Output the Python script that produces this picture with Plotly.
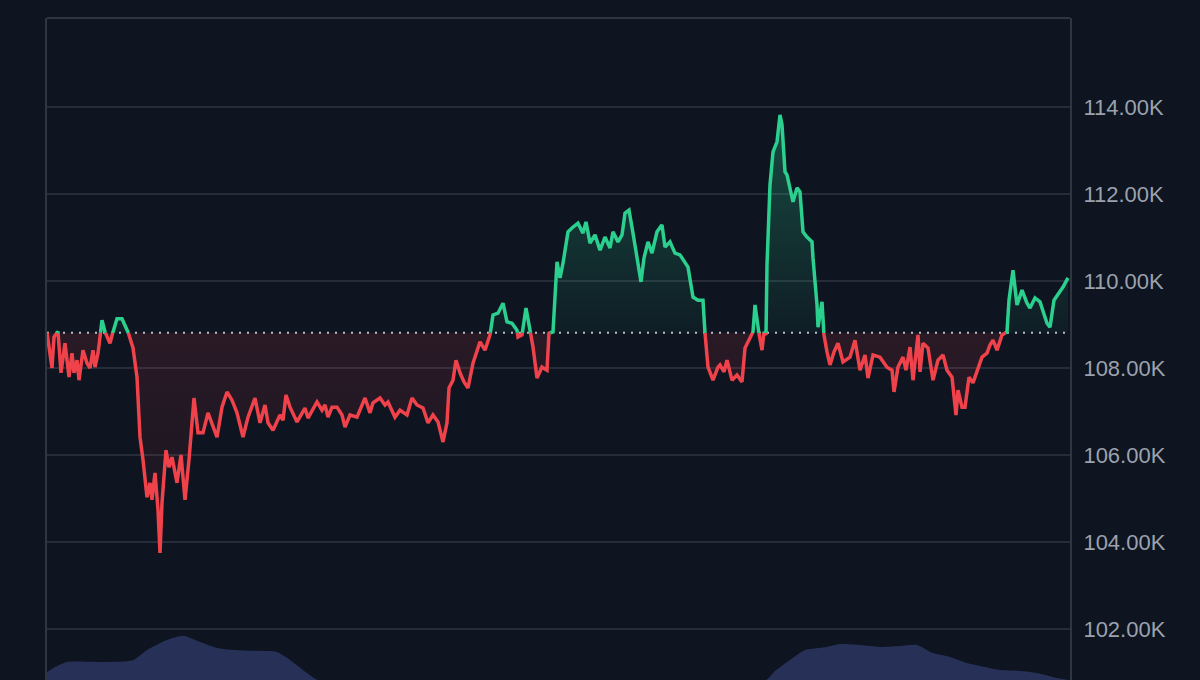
import datetime as dt
import plotly.graph_objects as go

# ---- data ----
# time offsets in 10-minute steps from the start of the window
t_steps = [0,5,7,11,14,18,22,25,27,30,32,36,40,43,46,48,51,53,55,58,63,66,70,75,81,86,90,93,96,100,
           103,105,108,111,113,115,119,122,125,130,134,138,142,147,151,156,161,166,170,175,180,185,190,196,201,
           208,213,218,221,226,233,236,239,243,250,258,261,270,275,278,281,285,290,295,298,303,310,318,323,326,
           333,338,341,348,353,360,365,370,376,381,386,391,396,400,402,406,409,413,417,421,426,433,438,443,446,
           451,456,460,465,470,471,475,479,483,486,490,495,500,502,506,510,513,516,521,526,531,536,539,543,548,
           553,558,563,566,571,575,578,582,586,590,594,597,601,605,610,615,618,623,628,633,638,641,646,651,656,
           658,661,666,671,673,677,680,685,690,695,698,703,706,708,711,715,717,719,720,723,726,730,733,735,738,
           740,743,746,750,753,756,760,765,766,770,771,775,777,780,783,787,791,796,803,808,813,818,821,826,833,
           840,845,847,851,856,859,863,866,871,873,876,881,886,891,896,900,905,909,911,915,918,922,926,930,935,
           940,943,946,950,955,960,962,965,966,970,975,980,983,988,993,1000,1003,1007,1011,1016,1021]

# price in thousands of USD
price_k = [108.81,108.00,108.71,108.84,107.89,108.57,107.79,108.34,107.89,108.18,107.72,108.41,108.11,108.00,
           108.41,108.02,108.34,108.71,109.10,108.83,108.57,108.83,109.13,109.13,108.83,108.46,107.79,106.41,
           105.89,105.03,105.36,104.97,105.59,104.74,103.75,104.90,106.11,105.72,105.95,105.36,106.00,104.97,
           105.89,107.31,106.51,106.51,106.97,106.64,106.41,107.10,107.45,107.26,106.97,106.41,106.87,107.31,
           106.74,107.15,106.74,106.57,106.92,106.80,107.38,107.10,106.76,107.08,106.85,107.22,107.03,107.15,
           106.87,107.10,107.10,106.92,106.64,106.92,106.87,107.31,106.97,107.20,107.31,107.15,107.22,106.87,
           107.03,106.92,107.31,107.15,107.08,106.74,106.92,106.76,106.30,106.74,107.54,107.72,108.18,107.89,
           107.68,107.54,108.11,108.60,108.41,108.76,109.22,109.26,109.49,109.06,109.03,108.87,108.71,108.76,
           109.38,108.87,108.48,107.77,108.02,107.95,108.80,108.83,110.44,110.07,110.41,111.13,111.24,111.33,
           111.10,111.36,110.87,111.06,110.71,111.01,110.76,111.13,110.90,111.06,111.56,111.63,111.10,110.55,
           109.98,110.53,110.90,110.64,111.13,111.29,110.78,110.90,110.64,110.60,110.41,110.32,109.63,109.56,
           109.56,108.80,108.02,107.72,108.02,108.07,107.91,108.18,107.72,107.84,107.68,108.46,108.69,108.83,
           109.45,108.92,108.41,108.83,108.76,110.37,112.21,112.97,113.20,113.82,113.59,112.51,112.44,112.09,
           111.82,112.14,112.05,111.13,111.01,110.90,110.53,109.45,108.94,109.52,108.76,108.37,108.07,108.37,
           108.57,108.14,108.25,108.64,107.95,108.30,107.77,108.30,108.25,108.02,107.95,107.45,108.02,108.25,
           107.95,108.48,107.72,108.76,107.91,108.57,108.46,107.72,108.18,108.30,107.95,107.79,106.92,107.49,
           107.10,107.10,107.79,107.66,107.95,108.25,108.34,108.53,108.64,108.41,108.76,108.83,109.56,110.14,
           110.25,109.45,109.79,109.49,109.38,109.61,109.52,109.03,108.94,109.56,109.68,109.86,110.07]

# traded volume (BTC) sampled at these steps
vol_steps = [0,8,20,53,86,100,120,136,153,170,186,208,230,243,260,271,353,453,553,653,719,
             728,743,758,780,793,813,836,853,870,886,903,920,938,953,973,990,1010,1021]
volume = [180,295,410,410,450,680,905,1000,860,725,680,660,635,455,160,0,0,0,0,0,0,
          205,455,680,750,815,795,750,770,795,610,520,385,295,225,205,160,45,0]

y_ticks_k = [102, 104, 106, 108, 110, 112, 114]
y_tick_text = [f"{v:.2f}K" for v in y_ticks_k]

# ---- styling ----
BG = "#0e1420"
GRID = "#262c3a"
GREEN = "#2bcf8e"
RED = "#f0424a"
start = dt.datetime(2025, 6, 20, 0, 0)


def to_time(s):
    return start + dt.timedelta(minutes=10 * s)


base = price_k[0]

# insert baseline crossing points so each segment lies on one side
T, P = [t_steps[0]], [price_k[0]]
for i in range(1, len(price_k)):
    a, b = price_k[i - 1] - base, price_k[i] - base
    if a * b < 0:
        f = a / (a - b)
        T.append(t_steps[i - 1] + f * (t_steps[i] - t_steps[i - 1]))
        P.append(base)
    T.append(t_steps[i])
    P.append(price_k[i])

X = [to_time(s) for s in T]
upper = [max(p, base) for p in P]
lower = [min(p, base) for p in P]
green_y = [p if p >= base else None for p in P]
red_y = [p if p <= base else None for p in P]
base_y = [base] * len(X)

fig = go.Figure()

# volume area (bottom overlay)
fig.add_trace(go.Scatter(
    x=[to_time(s) for s in vol_steps], y=volume, yaxis="y2",
    mode="lines", line=dict(width=0, color="#2a3358", shape="spline", smoothing=0.6),
    fill="tozeroy", fillcolor="rgba(44,54,98,0.85)", hoverinfo="skip"))

# green fill
fig.add_trace(go.Scatter(x=X, y=base_y, mode="lines", line=dict(width=0),
                         hoverinfo="skip", showlegend=False))
fig.add_trace(go.Scatter(
    x=X, y=upper, mode="lines", line=dict(width=0), fill="tonexty",
    fillgradient=dict(type="vertical",
                      colorscale=[[0, "rgba(43,207,142,0.05)"], [1, "rgba(43,207,142,0.30)"]],
                      start=base, stop=max(price_k)),
    hoverinfo="skip", showlegend=False))

# red fill
fig.add_trace(go.Scatter(x=X, y=base_y, mode="lines", line=dict(width=0),
                         hoverinfo="skip", showlegend=False))
fig.add_trace(go.Scatter(
    x=X, y=lower, mode="lines", line=dict(width=0), fill="tonexty",
    fillgradient=dict(type="vertical",
                      colorscale=[[0, "rgba(240,66,74,0.04)"], [1, "rgba(240,66,74,0.12)"]],
                      start=min(price_k), stop=base),
    hoverinfo="skip", showlegend=False))

# dotted baseline
fig.add_trace(go.Scatter(
    x=[to_time(0), to_time(1023)], y=[base, base], mode="lines",
    line=dict(color="#b9bec8", width=2, dash="2px,6px"), hoverinfo="skip"))

# price lines
fig.add_trace(go.Scatter(x=X, y=red_y, mode="lines", connectgaps=False,
                         line=dict(color=RED, width=3.5), hoverinfo="skip"))
fig.add_trace(go.Scatter(x=X, y=green_y, mode="lines", connectgaps=False,
                         line=dict(color=GREEN, width=3.5), hoverinfo="skip"))

fig.update_layout(
    width=1200, height=680,
    margin=dict(l=47, r=130, t=18, b=0),
    paper_bgcolor=BG, plot_bgcolor=BG,
    showlegend=False,
    xaxis=dict(range=[to_time(0), to_time(1023)], showgrid=False, zeroline=False,
               showticklabels=False, showline=False, fixedrange=True),
    yaxis=dict(range=[100.828, 116.046], side="right", tickvals=y_ticks_k, ticktext=y_tick_text,
               showgrid=True, gridcolor=GRID, gridwidth=1.5, zeroline=False,
               showline=True, linecolor="#2f3543", linewidth=2, mirror=True,
               ticks="", ticklabelstandoff=7, fixedrange=True,
               tickfont=dict(family="Liberation Sans, Arial, sans-serif", size=22, color="#9ba2ae")),
    yaxis2=dict(range=[0, 15000], overlaying="y", visible=False, fixedrange=True),
    shapes=[dict(type="line", xref="paper", yref="paper", x0=0, x1=1, y0=1, y1=1,
                 line=dict(color="#2f3543", width=2))],
)

page_js = ("document.documentElement.style.background='%s';"
           "document.body.style.margin='0';"
           "document.body.style.background='%s';"
           "document.body.style.overflow='hidden';" % (BG, BG))
fig.write_html("out.html", post_script=page_js, config={"displayModeBar": False})
